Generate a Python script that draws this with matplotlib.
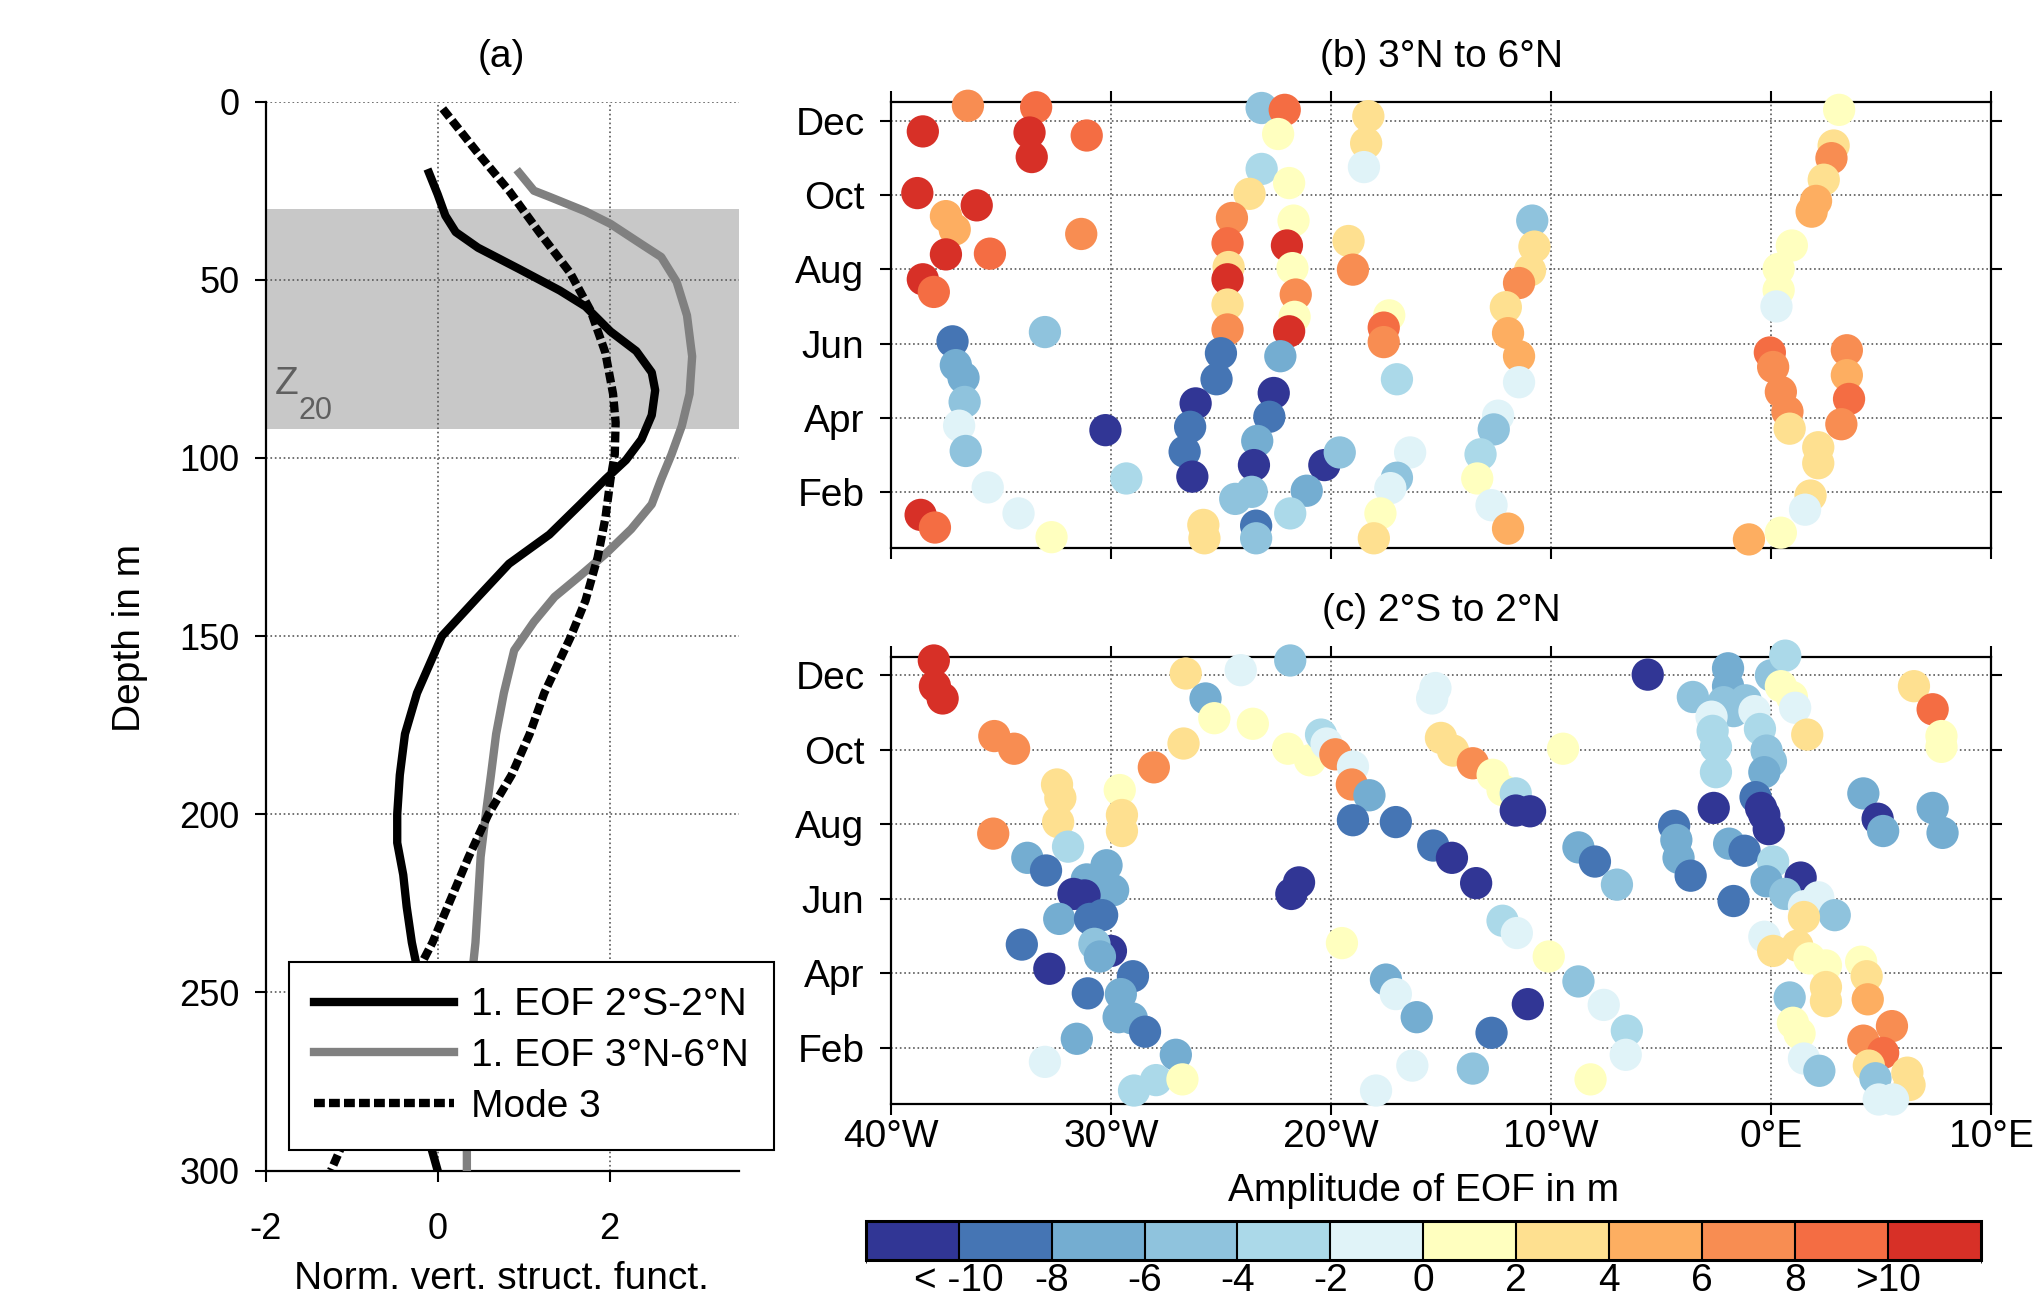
import matplotlib
matplotlib.use('Agg')
import matplotlib.pyplot as plt
import numpy as np
from matplotlib.colors import ListedColormap, BoundaryNorm

plt.rcParams['font.family'] = ['Liberation Sans', 'DejaVu Sans']
plt.rcParams['axes.unicode_minus'] = False

# (a) vertical structure functions
depth_eq = [20, 26, 32, 36.6, 41, 47, 53, 57.5, 64.5, 70, 76, 81, 88, 94.8, 100.6, 106, 113, 121.5,
            129.7, 139, 150, 166, 177.5, 189, 200, 208, 217, 226, 236, 243, 255, 270, 285, 294, 300]
eof_eq = [-0.10, 0.0, 0.09, 0.21, 0.47, 0.95, 1.42, 1.72, 2.01, 2.31, 2.49, 2.53, 2.49, 2.37, 2.19, 1.95, 1.66, 1.30,
          0.83, 0.47, 0.05, -0.24, -0.38, -0.44, -0.47, -0.47, -0.40, -0.36, -0.30, -0.24, -0.19, -0.14, -0.10, -0.07, 0.0]

depth_n = [20, 25, 26.7, 30.8, 34.3, 40, 43.6, 50.6, 60, 71.5, 82, 91, 99, 106, 113, 120, 127, 133, 139, 146,
           154, 166, 177.5, 189, 200, 212, 224, 236, 243, 260, 280, 294, 300]
eof_n = [0.95, 1.12, 1.30, 1.72, 2.01, 2.37, 2.60, 2.78, 2.90, 2.96, 2.93, 2.84, 2.72, 2.60, 2.49, 2.25, 1.95, 1.66, 1.36, 1.12,
         0.89, 0.77, 0.68, 0.62, 0.56, 0.50, 0.47, 0.44, 0.41, 0.38, 0.35, 0.34, 0.34]

depth_m3 = [2, 14.5, 25, 36.6, 48, 58.7, 70.4, 82, 90, 99, 106, 117, 128, 140, 150.6, 166, 177.5, 189, 200,
            212, 224, 236, 243, 300]
mode3 = [0.06, 0.47, 0.83, 1.18, 1.54, 1.78, 1.95, 2.04, 2.07, 2.06, 2.01, 1.95, 1.86, 1.72, 1.54, 1.24, 1.07, 0.86, 0.59,
         0.36, 0.15, -0.06, -0.21, -1.24]

z20_top, z20_bottom = 30, 92

# (b) 3N-6N : longitude, month, amplitude
lon_b = [-36.5, -33.4, -38.55, -33.7, -31.1, -33.6, -38.8, -36.1, -37.5, -37.1, -31.35, -37.5, -35.5, -38.55, -38.05,
         -33.0, -37.2, -37.05, -36.7, -36.65, -36.9, -36.6, -35.6, -34.2, -32.7, -38.65, -38.0, -30.25, -29.3,
         -23.15, -22.1, -22.4, -23.15, -21.9, -23.7, -24.5, -21.7, -24.7, -22.0, -24.65, -21.75, -24.7, -21.6, -24.7,
         -21.65, -24.7, -21.9, -25.0, -22.3, -25.2, -22.6, -26.15, -22.8, -26.4, -23.35, -26.65, -23.5, -26.3, -20.3,
         -19.6, -21.1, -24.35, -23.6, -21.85, -23.4, -23.4, -25.8, -25.75, -18.3, -18.4, -18.5, -19.2, -19.0, -17.35,
         -17.6, -17.6, -17.0, -16.4, -17.0, -17.3, -17.75, -18.05, -10.85, -10.75, -10.95, -11.45, -12.05, -11.95,
         -11.45, -11.45, -12.4, -12.6, -13.2, -13.35, -12.7, -11.95, 3.1, 2.85, 2.75, 2.4, 2.05, 1.85, 0.95, 0.35,
         0.35, 0.25, -0.05, 0.1, 0.45, 0.75, 0.85, 2.15, 2.15, 1.8, 1.55, 0.45, -1.0, 3.45, 3.45, 3.55, 3.2]
month_b = [12.40, 12.36, 11.71, 11.68, 11.60, 11.02, 10.05, 9.72, 9.43, 9.07, 8.95, 8.40, 8.42, 7.73, 7.39,
           6.31, 6.06, 5.42, 5.08, 4.43, 3.79, 3.11, 2.13, 1.43, 0.79, 1.39, 1.05, 3.67, 2.37,
           12.34, 12.29, 11.64, 10.70, 10.32, 10.03, 9.38, 9.31, 8.70, 8.64, 8.06, 8.03, 7.73, 7.32, 7.05,
           6.72, 6.38, 6.33, 5.74, 5.66, 5.04, 4.67, 4.39, 4.03, 3.76, 3.38, 3.09, 2.73, 2.42, 2.73,
           3.07, 2.04, 1.82, 2.01, 1.43, 1.10, 0.76, 1.12, 0.76, 12.12, 11.39, 10.75, 8.76, 7.99, 6.76,
           6.43, 6.04, 5.04, 3.07, 2.39, 2.11, 1.43, 0.76, 9.31, 8.61, 7.97, 7.63, 6.98, 6.28,
           5.66, 4.96, 4.06, 3.69, 3.02, 2.37, 1.65, 1.02, 12.29, 11.33, 10.99, 10.41, 9.84, 9.55, 8.64, 8.01,
           7.44, 7.00, 5.76, 5.37, 4.70, 4.17, 3.71, 3.21, 2.78, 1.91, 1.53, 0.91, 0.73, 5.82, 5.15, 4.51, 3.83]
amp_b = [7, 9, 11, 11, 9, 11, 11, 11, 5, 5, 7, 11, 9, 11, 9,
         -5, -9, -7, -7, -5, -1, -5, -1, -1, 1, 11, 9, -11, -3,
         -5, 9, 1, -3, 1, 3, 7, 1, 9, 11, 3, 1, 11, 7, 3,
         1, 7, 11, -9, -7, -9, -11, -11, -9, -9, -7, -9, -11, -11, -11,
         -5, -7, -5, -5, -3, -9, -5, 3, 3, 3, 3, -1, 3, 7, 1,
         9, 7, -3, -1, -5, -1, 1, 3, -5, 3, 3, 7, 3, 5,
         5, -1, -1, -5, -3, 1, -1, 5, 1, 3, 7, 3, 5, 5, 1, 1,
         1, -1, 9, 7, 7, 7, 3, 3, 3, 3, -1, 1, 5, 7, 5, 9, 7]

# (c) 2S-2N : longitude, month, amplitude
lon_c = [-38.05, -38.0, -37.65, -35.3, -34.4, -32.45, -32.3, -32.4, -35.35, -31.95, -33.8, -32.95, -30.2, -31.1,
         -29.9, -31.7, -31.2, -32.35, -30.95, -30.4, -34.05, -30.0, -30.75, -30.5, -32.8, -29.0, -31.05, -29.55,
         -29.65, -29.05, -28.45, -31.55, -27.05, -33.0, -27.95, -26.75, -28.95, -29.6, -29.5, -29.5, -28.05, -26.7,
         -26.6, -25.7, -25.3, -23.55, -24.1, -21.85, -21.95, -20.95, -20.45, -20.2, -19.8, -19.0, -19.05, -18.25,
         -19.0, -17.05, -21.45, -21.8, -19.5, -17.5, -17.05, -16.1, -16.3, -17.95, -15.25, -15.4, -15.0, -14.45,
         -13.55, -12.65, -12.2, -11.6, -11.6, -10.95, -15.35, -14.5, -13.4, -12.2, -11.55, -10.1, -8.75, -7.6,
         -6.55, -6.6, -8.2, -11.05, -12.7, -13.55, -9.45, -5.6, -8.75, -8.0, -7.0, -4.4, -4.3, -4.2, -3.65, -2.6,
         -3.55, -1.95, -1.95, -2.15, -1.7, -2.7, -2.65, -2.5, -2.5, -1.15, -0.75, -0.5, 0.0, 0.65, 0.45, 0.95,
         1.1, 1.65, -0.2, 0.0, -0.3, -0.7, -0.45, -0.3, -0.1, -1.9, -1.2, -1.7, 0.1, -0.2, 1.35, 0.65, 1.5, 2.15,
         2.9, 1.5, -0.3, 0.1, 1.2, 1.75, 2.5, 2.5, 2.5, 0.85, 1.0, 1.3, 1.5, 2.2, 4.1, 4.35, 4.4, 5.5, 4.2, 5.1,
         4.45, 4.75, 6.2, 6.3, 4.9, 5.55, 4.2, 4.85, 5.1, 7.35, 7.8, 6.5, 7.35, 7.75, 7.75]
month_c = [12.40, 11.71, 11.38, 10.37, 10.03, 9.07, 8.71, 8.06, 7.75, 7.40, 7.10, 6.76, 6.90, 6.52,
           6.23, 6.13, 6.09, 5.46, 5.46, 5.56, 4.77, 4.60, 4.79, 4.45, 4.12, 3.92, 3.46, 3.44,
           2.82, 2.79, 2.43, 2.24, 1.81, 1.62, 1.13, 1.15, 0.85, 8.92, 8.25, 7.82, 9.53, 10.17,
           12.05, 11.38, 10.85, 10.70, 12.14, 12.40, 10.03, 9.72, 10.41, 10.17, 9.88, 9.55, 9.07, 8.78,
           8.11, 8.06, 6.44, 6.13, 4.81, 3.83, 3.44, 2.82, 1.52, 0.85, 11.66, 11.38, 10.32, 9.98,
           9.64, 9.33, 8.92, 8.83, 8.37, 8.35, 7.43, 7.10, 6.42, 5.41, 5.08, 4.45, 3.78, 3.15,
           2.46, 1.81, 1.15, 3.17, 2.40, 1.44, 10.03, 12.02, 7.38, 7.0, 6.38, 7.96, 7.58, 7.10, 6.62, 8.44,
           11.42, 12.19, 11.71, 11.28, 11.04, 10.89, 10.51, 10.08, 9.40, 11.33, 11.04, 10.56, 12.0, 12.53, 11.71, 11.42,
           11.13, 10.41, 9.98, 9.69, 9.40, 8.73, 8.44, 8.25, 7.87, 7.48, 7.29, 5.94, 7.0, 6.47, 6.57, 6.13, 5.80, 6.04,
           5.56, 5.51, 4.98, 4.60, 4.74, 4.40, 4.21, 3.63, 3.25, 3.35, 2.67, 2.38, 1.71, 1.38, 4.31, 3.92, 3.30, 2.58, 2.19, 1.86,
           1.52, 1.18, 1.33, 1.0, 0.61, 0.61, 8.83, 8.15, 7.82, 8.44, 7.77, 11.71, 11.09, 10.37, 10.08]
amp_c = [11, 11, 11, 7, 7, 3, 3, 3, 7, -3, -7, -9, -7, -7,
         -7, -11, -11, -7, -9, -9, -9, -11, -5, -7, -11, -9, -9, -7,
         -7, -7, -9, -7, -7, -1, -3, 1, -3, 1, 3, 3, 7, 3,
         3, -7, 1, 1, -1, -5, 1, 1, -3, -1, 7, -1, 7, -7,
         -9, -9, -11, -11, 1, -7, -1, -7, -1, -1, -1, -1, 3, 3,
         7, 1, 1, -3, -11, -11, -9, -11, -11, -3, -1, 1, -5, -1,
         -3, -1, 1, -11, -9, -5, 1, -11, -7, -9, -5, -9, -7, -7, -9, -11,
         -5, -7, -7, -5, -5, -1, -3, -3, -3, -5, -1, -3, -5, -3, 1, 1,
         -1, 3, -5, -5, -7, -9, -11, -11, -11, -7, -9, -9, -3, -7, -11, -5, -1, -1,
         -5, 3, -1, 3, 3, 1, 1, 3, 3, -5, 1, 1, -1, -5, 1, 3, 5, 7, 7, 9,
         3, -5, 3, 3, -1, -1, -7, -11, -7, -7, -7, 3, 9, 1, 1]

month_ticks = [2, 4, 6, 8, 10, 12]
month_labels = ['Feb', 'Apr', 'Jun', 'Aug', 'Oct', 'Dec']
lon_ticks = [-40, -30, -20, -10, 0, 10]
lon_labels = ['40°W', '30°W', '20°W', '10°W', '0°E', '10°E']

bin_edges = np.arange(-12, 13, 2)
bin_colors = ['#313695', '#4575b4', '#74add1', '#8fc3dd', '#abd9e9', '#e0f3f8',
              '#ffffbf', '#fee090', '#fdae61', '#f88d52', '#f46d43', '#d73027']
cb_ticks = [-10, -8, -6, -4, -2, 0, 2, 4, 6, 8, 10]
cb_labels = ['< -10', '-8', '-6', '-4', '-2', '0', '2', '4', '6', '8', '>10']

cmap = ListedColormap(bin_colors)
norm = BoundaryNorm(bin_edges, cmap.N)

fig = plt.figure(figsize=(20.42, 13), dpi=100)

# ---- panel (a)
ax = fig.add_axes([0.1301, 0.0996, 0.2316, 0.8222])
ax.axhspan(z20_top, z20_bottom, color='#c8c8c8', lw=0, zorder=0.5)
ax.plot(eof_eq, depth_eq, color='k', lw=6, label='1. EOF 2°S-2°N', zorder=3)
ax.plot(eof_n, depth_n, color='#808080', lw=6, label='1. EOF 3°N-6°N', zorder=3)
ax.plot(mode3, depth_m3, color='k', lw=6, dashes=(1.3, 0.5), label='Mode 3', zorder=3)
ax.set_xlim(-2, 3.5)
ax.set_ylim(300, 0)
ax.set_xticks([-2, 0, 2])
ax.set_yticks([0, 50, 100, 150, 200, 250, 300])
ax.spines['top'].set_visible(False)
ax.spines['right'].set_visible(False)
for s in ['left', 'bottom']:
    ax.spines[s].set_linewidth(1.6)
ax.grid(True, ls=':', color='0.35', lw=1.2)
ax.set_axisbelow(True)
ax.tick_params(direction='out', length=8, width=1.5, labelsize=26)
ax.tick_params(axis='x', pad=22)
ax.tick_params(axis='y', pad=11)
ax.text(-1.89, 82, 'Z', fontsize=28, color='#606060')
ax.text(-1.62, 89, '20', fontsize=22, color='#606060')

fig.legend(loc='upper left', bbox_to_anchor=(289 / 2042, 1 - 962 / 1300), bbox_transform=fig.transFigure,
           borderaxespad=0, fontsize=28, handlelength=3.6, handletextpad=0.42, labelspacing=0.38,
           fancybox=False, framealpha=1, edgecolor='k', borderpad=0.65)
fig.legends[0].get_frame().set_linewidth(1.5)

fig.text(0.2454, 0.956, '(a)', ha='center', va='center', fontsize=28)
fig.text(0.0637, 0.509, 'Depth in m', ha='center', va='center', rotation=90, fontsize=28)
fig.text(0.2454, 0.0162, 'Norm. vert. struct. funct.', ha='center', va='center', fontsize=28)

# ---- panels (b) and (c)
ax_b = fig.add_axes([0.4363, 0.5785, 0.5387, 0.3430])
ax_c = fig.add_axes([0.4363, 0.1511, 0.5387, 0.3437])
for a, lon, mon, amp in [(ax_b, lon_b, month_b, amp_b), (ax_c, lon_c, month_c, amp_c)]:
    a.scatter(lon, mon, c=amp, cmap=cmap, norm=norm, s=540, edgecolors='none', clip_on=False, zorder=3)
    a.set_xlim(-40, 10)
    a.set_ylim(0.5, 12.5)
    a.set_xticks(lon_ticks)
    a.set_yticks(month_ticks)
    a.set_yticklabels(month_labels)
    a.grid(True, ls=':', color='0.35', lw=1.2)
    a.set_axisbelow(True)
    for s in a.spines.values():
        s.set_linewidth(1.6)
    a.tick_params(direction='out', length=8, width=1.5, labelsize=28, top=True, right=True)
    a.tick_params(axis='y', pad=11)
    a.tick_params(axis='x', pad=3)
ax_b.tick_params(labelbottom=False)
ax_c.set_xticklabels(lon_labels)

fig.text(0.7057, 0.956, '(b) 3°N to 6°N', ha='center', va='center', fontsize=28)
fig.text(0.7057, 0.530, '(c) 2°S to 2°N', ha='center', va='center', fontsize=28)

# ---- colorbar
cax = fig.add_axes([0.424, 0.0308, 0.546, 0.030])
sm = plt.cm.ScalarMappable(cmap=cmap, norm=norm)
cb = fig.colorbar(sm, cax=cax, orientation='horizontal', ticks=cb_ticks, drawedges=True)
cb.set_ticklabels(cb_labels)
cb.outline.set_linewidth(2.2)
cb.dividers.set_linewidth(1.5)
cb.dividers.set_color('k')
cax.tick_params(length=0, labelsize=28, pad=2)
fig.text(0.697, 1 - 1191 / 1300, 'Amplitude of EOF in m', ha='center', va='center', fontsize=28)

fig.savefig('out.png', dpi=100, facecolor='white')
